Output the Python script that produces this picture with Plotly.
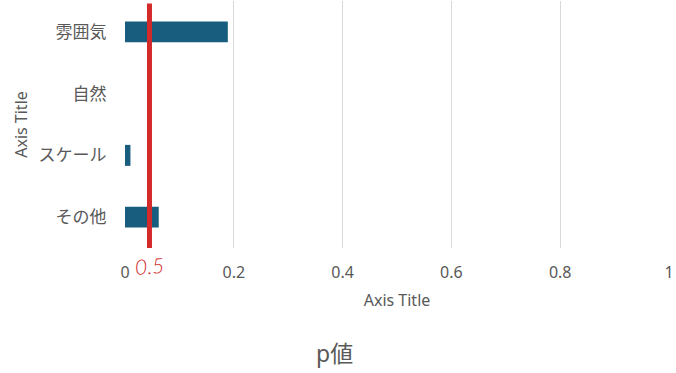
import plotly.graph_objects as go

categories = ["雰囲気", "自然", "スケール", "その他"]
p_values = [0.189, 0.0, 0.01, 0.062]
threshold = 0.045
threshold_label = "0.5"
x_ticks = [0, 0.2, 0.4, 0.6, 0.8, 1]
x_tick_labels = ["0", "0.2", "0.4", "0.6", "0.8", "1"]

FONT = "Noto Sans, Noto Sans CJK JP, sans-serif"
GRAY = "#595959"

fig = go.Figure()
fig.add_trace(go.Bar(
    y=categories, x=p_values, orientation="h",
    marker=dict(color="#185c7e", line=dict(width=0)),
    width=0.34,
))

fig.add_shape(type="line", xref="x", yref="paper",
              x0=threshold, x1=threshold, y0=0.99, y1=0.0,
              line=dict(color="#d42a2a", width=5))
fig.add_annotation(x=threshold, xref="x", y=-0.072, yref="paper",
                   text=threshold_label, showarrow=False,
                   font=dict(family="Lato, sans-serif", size=21, color="#d42a2a",
                             weight=300, style="italic"),
                   xanchor="center", yanchor="middle", textangle=-4)

fig.update_layout(
    width=676, height=373,
    margin=dict(l=125, r=7, t=1, b=125),
    paper_bgcolor="white", plot_bgcolor="white",
    showlegend=False,
    font=dict(family=FONT, color=GRAY, size=15),
    title=dict(text="p値", x=0.495, xanchor="center", y=0.05, yanchor="middle",
               font=dict(family=FONT, size=23, color=GRAY)),
    xaxis=dict(range=[0, 1], tickvals=x_ticks, ticktext=x_tick_labels,
               showgrid=True, gridcolor="#d9d9d9", gridwidth=1,
               zeroline=False, showline=False,
               ticks="outside", ticklen=10, tickcolor="rgba(0,0,0,0)",
               tickfont=dict(size=16, color=GRAY),
               title=dict(text="Axis Title", font=dict(size=16, color=GRAY), standoff=12)),
    yaxis=dict(categoryorder="array", categoryarray=categories[::-1],
               showgrid=False, zeroline=False, showline=False,
               ticks="outside", ticklen=14, tickcolor="rgba(0,0,0,0)",
               tickfont=dict(size=17, color=GRAY),
               title=dict(text="Axis Title", font=dict(size=16, color=GRAY), standoff=6)),
)

fig.write_html("out.html")
